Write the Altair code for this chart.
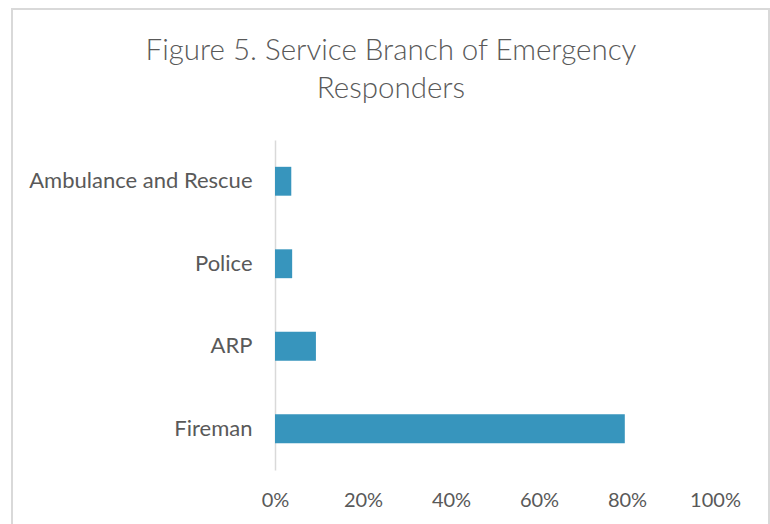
import altair as alt
import pandas as pd

# Share of emergency responders by service branch
branches = ["Ambulance and Rescue", "Police", "ARP", "Fireman"]
shares = [0.037, 0.039, 0.093, 0.795]

df = pd.DataFrame({"branch": branches, "share": shares})

FONT = "Lato"
GREY_TEXT = "#595959"

bars = alt.Chart(df).mark_bar(color="#3795bd").encode(
    x=alt.X(
        "share:Q",
        scale=alt.Scale(domain=[0, 1], nice=False),
        axis=alt.Axis(
            format=".0%",
            values=[0, 0.2, 0.4, 0.6, 0.8, 1.0],
            grid=False,
            domain=False,
            ticks=False,
            labelPadding=20,
            labelFontSize=20,
            labelColor=GREY_TEXT,
            labelFont=FONT,
            labelFlush=False,
            title=None,
        ),
    ),
    y=alt.Y(
        "branch:N",
        sort=branches,
        scale=alt.Scale(paddingInner=0.65, paddingOuter=0.325),
        axis=alt.Axis(
            domainColor="#d9d9d9",
            domainWidth=1.5,
            ticks=False,
            labelPadding=23,
            labelFontSize=22,
            labelColor=GREY_TEXT,
            labelFont=FONT,
            labelLimit=400,
            title=None,
        ),
    ),
)

# Light grey frame around the whole figure
frame = alt.Chart(df).mark_rect(
    fill=None, stroke="#d9d9d9", strokeWidth=2, clip=False
).encode(
    x=alt.value(-263),
    x2=alt.value(494),
    y=alt.value(-131),
    y2=alt.value(400),
)

chart = alt.layer(frame, bars).properties(
    width=440,
    height=330,
    padding={"left": 275, "top": 140, "right": 55, "bottom": 54},
    autosize=alt.AutoSizeParams(type="none"),
    title=alt.TitleParams(
        text=["Figure 5. Service Branch of Emergency", "Responders"],
        font=FONT,
        fontSize=29.5,
        fontWeight=300,
        color=GREY_TEXT,
        anchor="middle",
        baseline="alphabetic",
        dx=-104,
        lineHeight=38,
        offset=-119,
    ),
).configure_view(stroke=None)

chart.save("out.html", embed_options={"renderer": "svg", "actions": False})
